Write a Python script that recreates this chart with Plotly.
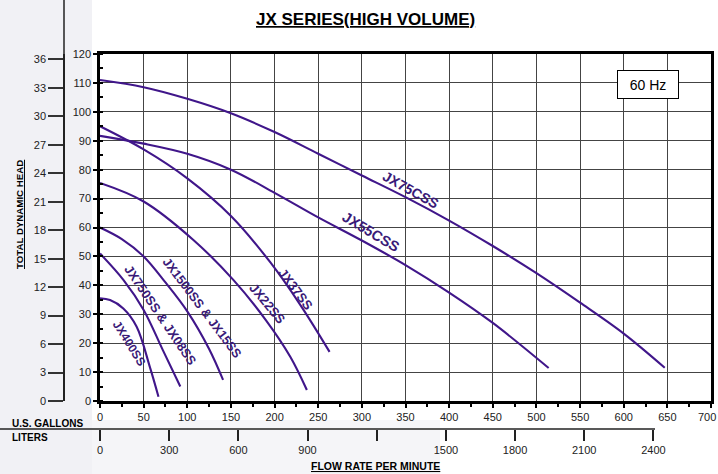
import plotly.graph_objects as go

# ---------------- data ----------------
gal_ticks = [0, 50, 100, 150, 200, 250, 300, 350, 400, 450, 500, 550, 600, 650, 700]
gal_labels = [str(v) for v in gal_ticks]
ft_ticks = [0, 10, 20, 30, 40, 50, 60, 70, 80, 90, 100, 110, 120]
m_ticks = [0, 3, 6, 9, 12, 15, 18, 21, 24, 27, 30, 33, 36]
liter_ticks = [0, 300, 600, 900, 1200, 1500, 1800, 2100, 2400]
liter_labels = ["0", "300", "600", "900", "", "1500", "1800", "2100", "2400"]

jx75_q = [0, 50, 100, 150, 200, 250, 300, 350, 400, 450, 500, 550, 600, 647]
jx75_h = [111, 108.5, 104.5, 99.5, 93, 85.5, 78, 70.5, 62.4, 53.6, 44.2, 34, 23.3, 11.5]

jx55_q = [0, 50, 100, 150, 200, 250, 300, 350, 400, 450, 514]
jx55_h = [91.7, 89, 85.5, 80, 72, 63.5, 55.5, 47, 37.5, 27, 11.4]

jx37_q = [0, 50, 100, 150, 195, 230, 263]
jx37_h = [95, 87, 77, 64, 48, 33, 17]

jx22_q = [0, 50, 107, 153, 190, 218, 237]
jx22_h = [75.4, 69, 55.7, 41.8, 28, 15.3, 3.8]

jx15_q = [0, 25, 50, 75, 100, 125, 141]
jx15_h = [60, 56, 50, 41, 31, 18, 7.3]

jx08_q = [0, 27, 50, 72, 92]
jx08_h = [51, 41.8, 31.5, 17.6, 5]

jx04_q = [0, 11.5, 26.7, 42, 57, 67]
jx04_h = [35.5, 34.9, 32, 25.7, 11.9, 1.5]

series_names = ["JX75CSS", "JX55CSS", "JX37SS", "JX22SS", "JX1500SS & JX15SS",
                "JX750SS & JX08SS", "JX400SS"]
series = [
    (jx75_q, jx75_h), (jx55_q, jx55_h), (jx37_q, jx37_h), (jx22_q, jx22_h),
    (jx15_q, jx15_h), (jx08_q, jx08_h), (jx04_q, jx04_h),
]

FT_PER_M = 3.28084
L_PER_GAL = 3.78541

# ---------------- geometry helpers ----------------
W, H = 718, 474
ML, MR, MT, MB = 10, 7, 10, 10
PW, PH = W - ML - MR, H - MT - MB
X0PX, X1PX, YTOP, YBOT = 100, 711, 54, 401


def px2x(px):
    return (px - ML) / PW


def px2y(py):
    return (H - MB - py) / PH


LINE = "#40168a"
TXT = "#3a1a78"

fig = go.Figure()
for (q, h), name in zip(series, series_names):
    fig.add_trace(go.Scatter(x=q, y=h, mode="lines", name=name,
                             line=dict(color=LINE, width=2.1, shape="spline"),
                             showlegend=False, hoverinfo="skip"))

# invisible traces to activate secondary axes
fig.add_trace(go.Scatter(x=[0], y=[0], yaxis="y2", mode="markers",
                         marker=dict(opacity=0), showlegend=False, hoverinfo="skip"))
fig.add_trace(go.Scatter(x=[0], y=[0], xaxis="x2", mode="markers",
                         marker=dict(opacity=0), showlegend=False, hoverinfo="skip"))

x_dom = [px2x(X0PX), px2x(X1PX)]
y_dom = [px2y(YBOT), px2y(YTOP)]

# the last gallon label sits at the very edge: drawn as an annotation instead
gal_text = gal_labels[:-1] + [""]

fig.update_layout(
    width=W, height=H,
    margin=dict(l=ML, r=MR, t=MT, b=MB),
    paper_bgcolor="white", plot_bgcolor="white",
    font=dict(family="Liberation Sans, Arial, sans-serif", size=11, color="#222"),
    xaxis=dict(domain=x_dom, range=[0, 700], tickvals=gal_ticks, ticktext=gal_text,
               ticks="outside", ticklen=4, tickwidth=1.5, tickcolor="black",
               showline=True, linewidth=2.5, linecolor="black", mirror=True,
               showgrid=True, gridcolor="#444444", gridwidth=1.3,
               zeroline=False, anchor="y", automargin=False,
               minor=dict(dtick=25, ticks="outside", ticklen=3, tickcolor="black",
                          tickwidth=1.5, showgrid=False),
               tickfont=dict(size=11, color="#222")),
    yaxis=dict(domain=y_dom, range=[0, 120], tickvals=ft_ticks,
               ticks="outside", ticklen=4, tickwidth=1.5, tickcolor="black",
               showline=True, linewidth=2.5, linecolor="black", mirror=True,
               showgrid=True, gridcolor="#444444", gridwidth=1.3,
               zeroline=False, anchor="x", automargin=False,
               minor=dict(dtick=5, ticks="inside", ticklen=3, tickcolor="black",
                          tickwidth=1.5, showgrid=False),
               tickfont=dict(size=11, color="#222")),
    yaxis2=dict(overlaying="y", anchor="free", side="left",
                position=px2x(64), range=[0, 120 / FT_PER_M],
                tickvals=m_ticks, ticks="outside", ticklen=15, tickwidth=1.5,
                tickcolor="#333", showline=True, linewidth=1.5, linecolor="#222",
                showgrid=False, zeroline=False, automargin=False,
                tickfont=dict(size=11, color="#222")),
    xaxis2=dict(overlaying="x", anchor="free", side="bottom",
                position=px2y(429), range=[0, 700 * L_PER_GAL],
                tickvals=liter_ticks, ticktext=liter_labels,
                ticks="outside", ticklen=11, tickwidth=1.5, tickcolor="#222",
                showline=False, showgrid=False, zeroline=False, automargin=False,
                tickfont=dict(size=11, color="#222")),
)

shapes = [
    dict(type="rect", xref="paper", yref="paper", x0=px2x(0), x1=px2x(92),
         y0=px2y(474), y1=px2y(0), fillcolor="#f1f1f5", line=dict(width=0), layer="below"),
    dict(type="rect", xref="paper", yref="paper", x0=px2x(92), x1=px2x(440),
         y0=px2y(474), y1=px2y(420), fillcolor="#f5f5f8", line=dict(width=0), layer="below"),
    dict(type="line", xref="paper", yref="paper", x0=px2x(64), x1=px2x(64),
         y0=px2y(54), y1=px2y(0), line=dict(color="#222", width=1.5)),
    dict(type="line", xref="paper", yref="paper", x0=px2x(0), x1=px2x(655),
         y0=px2y(429), y1=px2y(429), line=dict(color="#222", width=1.5)),
]


def pann(text, xpx, ypx, size, **kw):
    d = dict(text=text, x=px2x(xpx), y=px2y(ypx), xref="paper", yref="paper",
             xanchor="center", yanchor="middle", showarrow=False,
             font=dict(size=size, color="black"))
    d.update(kw)
    return d


annotations = [
    pann("<b><u>JX SERIES(HIGH VOLUME)</u></b>", 365, 19, 17),
    pann("<b><u>TOTAL DYNAMIC HEAD</u></b>", 20, 215, 9.7, textangle=-90),
    pann("<b>U.S. GALLONS</b>", 10, 423, 10, xanchor="left"),
    pann("<b>LITERS</b>", 10, 437, 10, xanchor="left"),
    pann("<b><u>FLOW RATE PER MINUTE</u></b>", 375, 466, 10.5),
    pann("60 Hz", 648, 85, 14, bgcolor="white", bordercolor="black", borderwidth=1,
         width=58, height=25),
    dict(text=gal_labels[-1], x=700, xref="x", y=px2y(417), yref="paper",
         xanchor="center", yanchor="middle", xshift=-4, showarrow=False,
         font=dict(size=11, color="#222")),
]

# curve labels: (name, centre px x, centre px y, angle, font size)
curve_labels = [
    ("JX75CSS", 411, 190, 29, 14),
    ("JX55CSS", 371, 232, 31, 14.5),
    ("JX37SS", 296, 289, 53, 13),
    ("JX22SS", 267, 304, 50, 13),
    ("JX1500SS & JX15SS", 202, 308, 53, 12.5),
    ("JX750SS & JX08SS", 161, 315, 56, 12.8),
    ("JX400SS", 129, 343, 58, 12),
]
for t, cx, cy, a, s in curve_labels:
    annotations.append(pann("<b>" + t + "</b>", cx, cy, s, textangle=a,
                            font=dict(size=s, color=TXT)))

fig.update_layout(shapes=shapes, annotations=annotations)
fig.write_html("out.html", config={"displayModeBar": False},
               post_script="document.body.style.margin='0';")
